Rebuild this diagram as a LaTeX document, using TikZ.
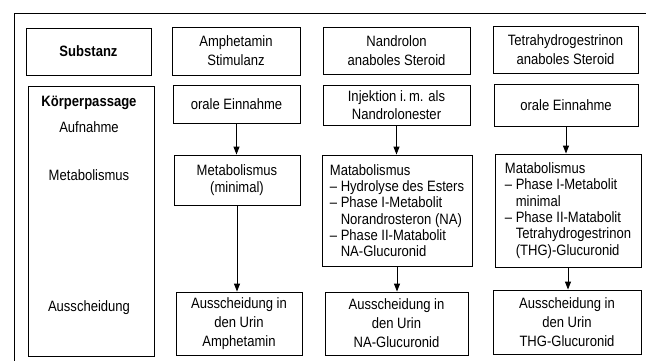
\documentclass[tikz,border=0pt]{standalone}
\usepackage{fontspec}
\setmainfont[FakeStretch=0.87]{Liberation Sans}
\usetikzlibrary{arrows.meta}
\newcommand{\ind}{\hphantom{–~}}
\begin{document}
\begin{tikzpicture}[x=1pt,y=-1pt,
  txt/.style={font=\fontsize{15}{19}\selectfont},
  tight/.style={font=\fontsize{15}{16.3}\selectfont},
  box/.style={txt, draw, line width=0.9pt, inner sep=0pt, align=center},
  boxl/.style={box, tight, align=left},
  lbl/.style={txt, inner sep=0pt},
  arr/.style={-{Triangle[length=8pt,width=6pt]}, line width=0.9pt}]
\useasboundingbox (0,0) rectangle (646,360);
% outer frame
\draw[line width=0.9pt] (646,13) -- (14,13) -- (14,362);
% header row
\node[box, minimum width=125, minimum height=47] (s1) at (88.5,51.5) {\bfseries Substanz};
\node[box, minimum width=128, minimum height=48] (s2) at (236,51) {Amphetamin\\Stimulanz};
\node[box, minimum width=147, minimum height=47] (s3) at (396.5,50.5) {Nandrolon\\anaboles Steroid};
\node[box, minimum width=145, minimum height=47] (s4) at (565.5,49.5) {Tetrahydrogestrinon\\anaboles Steroid};
% left column
\node[box, minimum width=126, minimum height=270] (k) at (91,221) {};
\node[lbl, font=\fontsize{15}{19}\selectfont\bfseries] (k1) at (89,103) {Körperpassage};
\node[lbl] (k2) at (89,127) {Aufnahme};
\node[lbl] (k3) at (89,175) {Metabolismus};
\node[lbl] (k4) at (89,308) {Ausscheidung};
% intake
\node[box, minimum width=127, minimum height=38] (a2) at (236.5,104) {orale Einnahme};
\node[box, font=\fontsize{15}{18}\selectfont, minimum width=147, minimum height=40] (a3) at (396.5,105) {Injektion i.\,m. als\\Nandrolonester};
\node[box, minimum width=144, minimum height=42] (a4) at (566,105) {orale Einnahme};
% metabolism
\node[box, font=\fontsize{15}{17}\selectfont, minimum width=126, minimum height=50] (m2) at (237,180) {Metabolismus\\(minimal)};
\node[boxl, minimum width=150, minimum height=111] (m3) at (397,210.5) {Matabolismus\\– Hydrolyse des Esters\\– Phase I-Metabolit\\\ind Norandrosteron (NA)\\– Phase II-Matabolit\\\ind NA-Glucuronid};
\node[boxl, minimum width=146, minimum height=113] (m4) at (568,210.5) {Matabolismus\\– Phase I-Metabolit\\\ind minimal\\– Phase II-Matabolit\\\ind Tetrahydrogestrinon\\\ind (THG)-Glucuronid};
% excretion
\node[box, minimum width=126, minimum height=63] (u2) at (239,323.5) {Ausscheidung in\\den Urin\\Amphetamin};
\node[box, minimum width=143, minimum height=63] (u3) at (396.5,323.5) {Ausscheidung in\\den Urin\\NA-Glucuronid};
\node[box, minimum width=148, minimum height=64] (u4) at (567,322) {Ausscheidung in\\den Urin\\THG-Glucuronid};
% arrows
\draw[arr] (a2.south) -- (a2.south |- m2.north);
\draw[arr] (m2.south) -- (m2.south |- u2.north);
\draw[arr] (a3.south) -- (a3.south |- m3.north);
\draw[arr] (m3.south) -- (m3.south |- u3.north);
\draw[arr] (a4.south) -- (a4.south |- m4.north);
\draw[arr] (m4.south) -- (m4.south |- u4.north);
\end{tikzpicture}
\end{document}
